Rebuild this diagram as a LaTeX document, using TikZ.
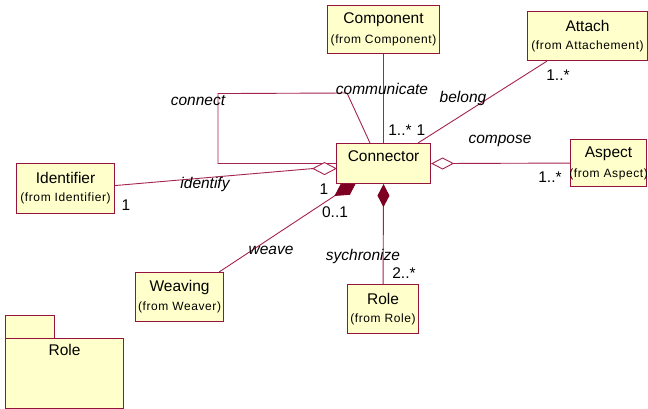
\documentclass[tikz,border=0pt]{standalone}
\usepackage{fontspec}
\setmainfont{Liberation Sans}
\newfontfamily\subfont[LetterSpace=5]{Liberation Sans}
\usetikzlibrary{arrows.meta,calc}
\definecolor{umlline}{RGB}{150,20,60}
\definecolor{assoccol}{RGB}{165,35,80}
\definecolor{umlfill}{RGB}{255,255,204}
\definecolor{compfill}{RGB}{125,0,35}
\pgfdeclarelayer{background}
\pgfsetlayers{background,main}

% class box: name, left, top, width, height, title, package
\newcommand\umlclass[7]{%
  \node[clsbox, minimum width=#4pt, minimum height=#5pt, anchor=north west] (#1) at (#2,#3) {};
  \node[clsname] (#1-name) at ($(#1.north)+(0,15)$) {#6};
  \node[clssub] (#1-from) at ($(#1.north)+(0,35.5)$) {(from #7)};
}

\tikzset{
  clsbox/.style={draw=umlline, fill=umlfill, line width=1.1pt, inner sep=0pt},
  clsname/.style={font=\fontsize{15.5}{18}\selectfont, inner sep=0pt},
  clssub/.style={font=\subfont\fontsize{12}{14}\selectfont, inner sep=0pt},
  assoc/.style={draw=assoccol, line width=0.9pt},
  rolename/.style={font=\itshape\fontsize{15.5}{18}\selectfont, inner sep=0pt},
  mult/.style={font=\fontsize{15.5}{18}\selectfont, inner sep=0pt},
  aggtip/.tip={Diamond[fill=white, length=23pt, width=12pt]},
  comptip/.tip={Diamond[fill=compfill, color=compfill, length=23pt, width=12pt]},
  widecomptip/.tip={Diamond[fill=compfill, color=compfill, length=27pt, width=15pt]}
}

\begin{document}
\begin{tikzpicture}[x=1pt, y=-1pt]
  \begin{pgfonlayer}{background}
    \fill[white] (0,0) rectangle (648,409);
  \end{pgfonlayer}
  \useasboundingbox (0,0) rectangle (648,409);

  % classes
  \umlclass{comp}{327}{5}{112}{48}{Component}{Component}
  \umlclass{att}{527}{11}{120}{49}{Attach}{Attachement}
  \umlclass{asp}{570}{139}{76}{47}{Aspect}{Aspect}
  \umlclass{ident}{16}{163}{98}{50}{Identifier}{Identifier}
  \umlclass{weav}{135}{272}{88}{49}{Weaving}{Weaver}
  \umlclass{role}{347}{284}{71}{49}{Role}{Role}
  \node[clsbox, minimum width=94pt, minimum height=40pt, anchor=north west] (conn) at (336,143) {};
  \node[clsname] (conn-name) at ($(conn.north)+(0,13)$) {Connector};

  % package
  \node[clsbox, minimum width=49pt, minimum height=23pt, anchor=north west] (pkgtab) at (5,315) {};
  \node[clsbox, minimum width=118pt, minimum height=70pt, anchor=north west] (pkg) at (5,338) {};
  \node[clsname] (pkg-name) at ($(pkg.north)+(0,12)$) {Role};

  % associations
  \coordinate (lp1) at ($(conn.west)+(-118,0)$);
  \coordinate (lp2) at ($(conn.west)+(-118,-70)$);
  \coordinate (lp3) at ($(conn.north west)+(11,-50)$);
  \coordinate (lp4) at ($(conn.north west)+(34,0)$);
  \coordinate (idr) at ($(conn.west)+(0,5)$);
  \coordinate (idl) at ($(idr)+(-23,0)$);
  \coordinate (blg) at ($(conn.north west)+(82,0)$);
  \coordinate (atb) at ($(att.south west)+(20,0)$);
  \coordinate (wvtip) at ($(conn.south west)+(21,-3)$);
  \coordinate (wvend) at ($(weav.north east)+(-5,0)$);
  \coordinate (idend) at ($(ident.east)+(0,-3)$);

  \begin{pgfonlayer}{background}
    \draw[assoc] (comp.south) -- (conn.north);
    \draw[assoc] (blg) -- (atb);
    \draw[assoc] (conn.west) -- (lp1) -- (lp2) -- (lp3) -- (lp4);
    \draw[assoc] (idl) -- (idend);
    \draw[assoc, fill=white] (idr) -- ++(-11.5,-6) -- ++(-11.5,6) -- ++(11.5,6) -- cycle;
    \draw[assoc, {aggtip}-] (conn.east) -- (asp.west);
    \draw[assoc, {widecomptip}-] (wvtip) -- (wvend);
    \draw[assoc, {comptip}-] (conn.south) -- (role.north);
  \end{pgfonlayer}

  % association names
  \node[rolename] (l-comm) at (382,89) {communicate};
  \node[rolename] (l-conn) at (198,101) {connect};
  \node[rolename] (l-belong) at (463,98) {belong};
  \node[rolename] (l-compose) at (500,141) {compose};
  \node[rolename] (l-ident) at (205,184) {identify};
  \node[rolename] (l-weave) at (271,250) {weave};
  \node[rolename] (l-sync) at (363,256) {sychronize};

  % multiplicities
  \node[mult] (m-comm) at (400,130) {1..*};
  \node[mult] (m-belong) at (421,130) {1};
  \node[mult] (m-att) at (558,75) {1..*};
  \node[mult] (m-asp) at (550,177) {1..*};
  \node[mult] (m-ident) at (126,205) {1};
  \node[mult] (m-conn) at (324,189) {1};
  \node[mult] (m-weave) at (335,212) {0..1};
  \node[mult] (m-role) at (404,273) {2..*};
\end{tikzpicture}
\end{document}
